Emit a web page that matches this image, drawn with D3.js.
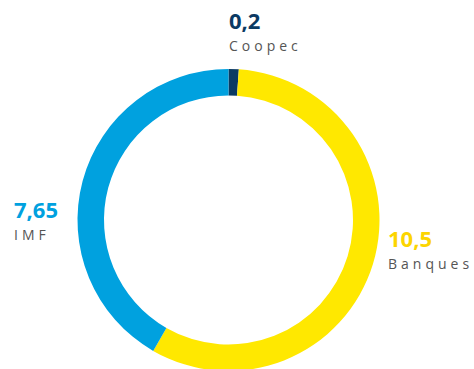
<!DOCTYPE html>
<html>
<head>
<meta charset="utf-8">
<script src="https://cdn.jsdelivr.net/npm/d3@7"></script>
<style>
  html, body { margin: 0; padding: 0; background: #fff; }
  svg { display: block; }
</style>
</head>
<body>
<svg id="chart" width="474" height="369"></svg>
<script>
// data
const categories = ['Coopec', 'Banques', 'IMF'];
const values = [0.2, 10.5, 7.65];
const valueLabels = ['0,2', '10,5', '7,65'];
const colors = ['#0b3a63', '#ffe800', '#00a1df'];
const textColors = ['#0b3a63', '#fcd500', '#00a1df'];

// where each label block sits (baseline of the value text)
const labelPos = {
  Coopec: [229, 29],
  Banques: [388, 247],
  IMF: [14, 218]
};

const svg = d3.select('#chart');
const cx = 228.5;
const cy = 220;
const outerR = 151;
const innerR = 124.5;

const pie = d3.pie().sort(null).value((d) => d.value);
const arc = d3.arc().innerRadius(innerR).outerRadius(outerR);

const rows = categories.map((c, i) => ({
  name: c, value: values[i], label: valueLabels[i], color: colors[i], text: textColors[i]
}));

const g = svg.append('g').attr('transform', `translate(${cx},${cy})`);
g.selectAll('path')
  .data(pie(rows))
  .join('path')
  .attr('d', arc)
  .attr('fill', (d) => d.data.color);

const labels = svg.selectAll('g.lbl')
  .data(rows)
  .join('g')
  .attr('class', 'lbl')
  .attr('transform', (d) => `translate(${labelPos[d.name][0]},${labelPos[d.name][1]})`);

labels.append('text')
  .attr('font-family', 'Open Sans, sans-serif')
  .attr('font-weight', 700)
  .attr('font-size', 22)
  .attr('fill', (d) => d.text)
  .text((d) => d.label);

labels.append('text')
  .attr('y', 21.5)
  .attr('font-family', 'Open Sans, sans-serif')
  .attr('font-size', 14)
  .attr('letter-spacing', 4)
  .attr('fill', '#555')
  .text((d) => d.name);
</script>
</body>
</html>
